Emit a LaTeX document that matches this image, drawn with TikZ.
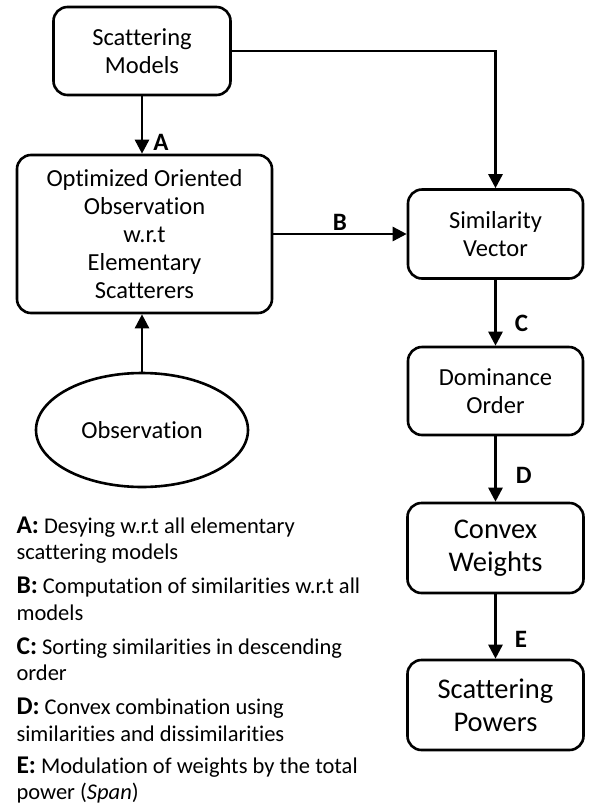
\documentclass[tikz,border=0pt]{standalone}
\usepackage{fontspec}
\setmainfont{Carlito}[Ligatures=NoCommon]
\usetikzlibrary{arrows.meta,shapes.geometric}

\tikzset{
  every node/.style={font=\fontsize{24.5}{28}\selectfont},
  box/.style={draw,line width=2.6pt,rounded corners=14pt,align=center,inner sep=0pt},
  big/.style={font=\fontsize{28.5}{33}\selectfont},
  blob/.style={draw,line width=2.6pt,ellipse,inner sep=0pt},
  flow/.style={line width=2.6pt,-{Triangle[length=14pt,width=14pt]}},
  lbl/.style={font=\fontsize{25}{28}\selectfont\bfseries,inner sep=2pt},
  key/.style={anchor=west,align=left,font=\fontsize{22.5}{26.5}\selectfont}
}
\newcommand{\keyletter}[1]{{\fontsize{25.5}{26}\selectfont\bfseries #1:}}

\begin{document}
\begin{tikzpicture}[x=1pt,y=-1pt]
      \useasboundingbox (0,0) rectangle (592,807);

      \node [box,minimum width=177pt,minimum height=88pt] (models) at (142,51) {Scattering\\Models};
      \node [box,minimum width=255pt,minimum height=158pt] (optim) at (144.5,234) {Optimized Oriented\\Observation\\w.r.t\\Elementary\\Scatterers};
      \node [blob,minimum width=212pt,minimum height=114pt] (obs) at (142,430) {Observation};
      \node [box,minimum width=175pt,minimum height=89pt] (simvec) at (495.5,234) {Similarity\\Vector};
      \node [box,minimum width=175pt,minimum height=88pt] (domin) at (495.5,391) {Dominance\\Order};
      \node [box,big,minimum width=176pt,minimum height=90pt] (convex) at (495.5,548) {Convex\\Weights};
      \node [box,big,minimum width=176pt,minimum height=90pt] (powers) at (495.5,705) {Scattering\\Powers};

      \draw [flow] (models) -- (models |- optim.north) node [lbl,pos=0.8,right=8pt] {A};
      \draw [flow] (obs) -- (obs |- optim.south);
      \draw [flow] (models) -| (simvec);
      \draw [flow] (optim) -- (simvec) node [lbl,midway,above] {B};
      \draw [flow] (simvec) -- (domin) node [lbl,pos=0.66,right=16pt] {C};
      \draw [flow] (domin) -- (convex) node [lbl,pos=0.6,right=17pt] {D};
      \draw [flow] (convex) -- (powers) node [lbl,pos=0.7,right=16pt] {E};

      % legend
      \node [key] (keyA) at (13,540) {\keyletter{A} Desying w.r.t all elementary\\scattering models};
      \node [key] (keyB) at (13,599) {\keyletter{B} Computation of similarities w.r.t all\\models};
      \node [key] (keyC) at (13,659) {\keyletter{C} Sorting similarities in descending\\order};
      \node [key] (keyD) at (13,720) {\keyletter{D} Convex combination using\\similarities and dissimilarities};
      \node [key] (keyE) at (13,780) {\keyletter{E} Modulation of weights by the total\\power (\textit{Span})};
    \end{tikzpicture}
\end{document}
